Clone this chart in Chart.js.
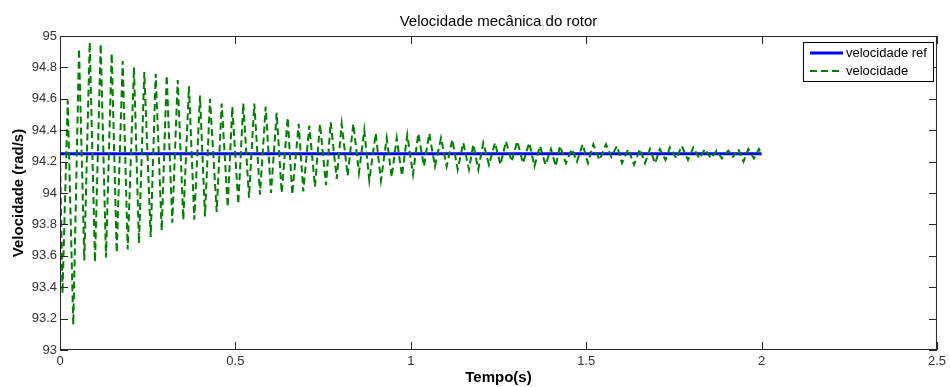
<!DOCTYPE html>
<html>
<head>
<meta charset="utf-8">
<script src="https://cdn.jsdelivr.net/npm/chart.js@4.4.1/dist/chart.umd.min.js"></script>
<style>
  html, body { margin: 0; padding: 0; background: #fff; }
  #wrap { width: 950px; height: 387px; }
</style>
</head>
<body>
<div id="wrap"><canvas id="rotor" width="950" height="387"></canvas></div>
<script>
const FONT = "'Liberation Sans', Arial, Helvetica, sans-serif";
const TICK_LEN = 8;

// Velocidade de referência (constante)
const refTempo = [0, 2];
const refVelocidade = [94.25, 94.25];

// Velocidade medida: picos e vales da oscilação amortecida
const tempo = [
  0, 0.0071, 0.0220, 0.0379, 0.0542, 0.0693, 0.0847, 0.0998, 0.1160, 0.1311,
  0.1474, 0.1616, 0.1787, 0.1930, 0.2109, 0.2252, 0.2403, 0.2586, 0.2728, 0.2899,
  0.3042, 0.3201, 0.3355, 0.3515, 0.3677, 0.3828, 0.3991, 0.4133, 0.4276, 0.4467,
  0.4610, 0.4781, 0.4912, 0.5083, 0.5225, 0.5388, 0.5539, 0.5701, 0.5864, 0.6015,
  0.6177, 0.6320, 0.6491, 0.6622, 0.6804, 0.6936, 0.7107, 0.7269, 0.7412, 0.7583,
  0.7717, 0.7888, 0.8030, 0.8201, 0.8361, 0.8523, 0.8675, 0.8817, 0.9000, 0.9150,
  0.9313, 0.9455, 0.9598, 0.9749, 0.9900, 1.0063, 1.0214, 1.0376, 1.0527, 1.0690,
  1.0861, 1.1023, 1.1183, 1.1337, 1.1497, 1.1659, 1.1782, 1.1925, 1.2067, 1.2229,
  1.2400, 1.2557, 1.2714, 1.2876, 1.3036, 1.3198, 1.3378, 1.3526, 1.3683, 1.3840,
  1.3997, 1.4131, 1.4253, 1.4424, 1.4587, 1.4738, 1.4900, 1.5051, 1.5203, 1.5379,
  1.5565, 1.5719, 1.5878, 1.6021, 1.6201, 1.6363, 1.6534, 1.6676, 1.6819, 1.6962,
  1.7104, 1.7261, 1.7389, 1.7574, 1.7722, 1.7902, 1.8053, 1.8230, 1.8387, 1.8558,
  1.8720, 1.8871, 1.9051, 1.9185, 1.9336, 1.9484, 1.9621, 1.9783, 1.9926, 2.0
];
const velocidade = [
  94.25, 93.36, 94.59, 93.16, 94.92, 93.57, 94.96, 93.56, 94.95, 93.59,
  94.89, 93.62, 94.84, 93.64, 94.80, 93.68, 94.77, 93.72, 94.76, 93.76,
  94.75, 93.81, 94.72, 93.83, 94.68, 93.83, 94.62, 93.85, 94.60, 93.88,
  94.57, 93.91, 94.55, 93.93, 94.57, 93.97, 94.57, 93.99, 94.55, 94.00,
  94.51, 94.00, 94.48, 93.99, 94.44, 94.01, 94.43, 94.04, 94.44, 94.05,
  94.45, 94.09, 94.44, 94.11, 94.44, 94.13, 94.40, 94.08, 94.38, 94.08,
  94.35, 94.10, 94.35, 94.11, 94.37, 94.12, 94.38, 94.17, 94.38, 94.17,
  94.35, 94.17, 94.34, 94.15, 94.32, 94.15, 94.31, 94.15, 94.32, 94.18,
  94.32, 94.18, 94.33, 94.20, 94.33, 94.19, 94.32, 94.17, 94.30, 94.18,
  94.28, 94.17, 94.30, 94.19, 94.28, 94.20, 94.31, 94.19, 94.31, 94.21,
  94.31, 94.23, 94.30, 94.19, 94.28, 94.18, 94.28, 94.19, 94.28, 94.19,
  94.28, 94.21, 94.29, 94.22, 94.30, 94.21, 94.29, 94.22, 94.28, 94.22,
  94.27, 94.22, 94.27, 94.23, 94.28, 94.20, 94.28, 94.22, 94.28, 94.24
];

const xTicks = [0, 0.5, 1, 1.5, 2, 2.5];
const yTicks = [93, 93.2, 93.4, 93.6, 93.8, 94, 94.2, 94.4, 94.6, 94.8, 95];

const toPoints = (xs, ys) => xs.map((x, i) => ({ x: x, y: ys[i] }));

// moldura estilo MATLAB: caixa, ticks para dentro, título e legenda
const molduraPlugin = {
  id: 'moldura',
  afterDraw(chart) {
    const { ctx, chartArea: a, scales } = chart;
    ctx.save();

    ctx.strokeStyle = '#262626';
    ctx.lineWidth = 1;
    ctx.strokeRect(a.left + 0.5, a.top + 0.5, a.right - a.left - 1, a.bottom - a.top - 1);

    ctx.beginPath();
    xTicks.forEach(v => {
      const px = Math.round(scales.x.getPixelForValue(v)) + 0.5;
      ctx.moveTo(px, a.bottom); ctx.lineTo(px, a.bottom - TICK_LEN);
      ctx.moveTo(px, a.top); ctx.lineTo(px, a.top + TICK_LEN);
    });
    yTicks.forEach(v => {
      const py = Math.round(scales.y.getPixelForValue(v)) + 0.5;
      ctx.moveTo(a.left, py); ctx.lineTo(a.left + TICK_LEN, py);
      ctx.moveTo(a.right, py); ctx.lineTo(a.right - TICK_LEN, py);
    });
    ctx.stroke();

    // título
    ctx.fillStyle = '#000';
    ctx.font = '15px ' + FONT;
    ctx.textAlign = 'center';
    ctx.textBaseline = 'middle';
    ctx.fillText('Velocidade mecânica do rotor', (a.left + a.right) / 2, 22);

    // legenda
    const boxW = 130, boxH = 39;
    const bx = a.right - 4 - boxW, by = a.top + 6;
    ctx.fillStyle = '#fff';
    ctx.fillRect(bx, by, boxW, boxH);
    ctx.strokeStyle = '#000';
    ctx.strokeRect(bx + 0.5, by + 0.5, boxW, boxH);

    ctx.font = '13px ' + FONT;
    ctx.textAlign = 'left';
    chart.data.datasets.forEach((ds, i) => {
      const ly = by + 11 + i * 18;
      ctx.beginPath();
      ctx.strokeStyle = ds.borderColor;
      ctx.lineWidth = ds.borderWidth;
      ctx.setLineDash(ds.borderDash || []);
      ctx.moveTo(bx + 7, ly);
      ctx.lineTo(bx + 40, ly);
      ctx.stroke();
      ctx.setLineDash([]);
      ctx.fillStyle = '#000';
      ctx.fillText(ds.label, bx + 43, ly);
    });

    ctx.restore();
  }
};

const ctx = document.getElementById('rotor');
new Chart(ctx, {
  type: 'scatter',
  data: {
    datasets: [
      {
        label: 'velocidade ref',
        data: toPoints(refTempo, refVelocidade),
        showLine: true,
        borderColor: '#0000ff',
        borderWidth: 3,
        pointRadius: 0,
        order: 2,
      },
      {
        label: 'velocidade',
        data: toPoints(tempo, velocidade),
        showLine: true,
        borderColor: '#008000',
        borderWidth: 2,
        borderDash: [7, 4],
        pointRadius: 0,
        tension: 0,
        order: 1,
      },
    ],
  },
  options: {
    responsive: false,
    animation: false,
    devicePixelRatio: 1,
    layout: { padding: { top: 36, right: 13, left: 0, bottom: 0 } },
    plugins: {
      legend: { display: false },
      title: { display: false },
      tooltip: { enabled: false },
    },
    scales: {
      x: {
        type: 'linear',
        min: 0,
        max: 2.5,
        afterBuildTicks: s => { s.ticks = xTicks.map(v => ({ value: v })); },
        afterFit: s => { s.height = 37; },
        grid: { display: false, drawTicks: false },
        border: { display: false },
        ticks: {
          autoSkip: false,
          maxRotation: 0,
          padding: 4,
          color: '#333',
          font: { family: FONT, size: 13 },
          callback: v => String(v),
        },
        title: {
          display: true,
          text: 'Tempo(s)',
          color: '#000',
          font: { family: FONT, size: 15, weight: 'bold', lineHeight: 1 },
          padding: { top: 0, bottom: 1.5 },
        },
      },
      y: {
        type: 'linear',
        min: 93,
        max: 95,
        afterBuildTicks: s => { s.ticks = yTicks.map(v => ({ value: v })); },
        afterFit: s => { s.width = 60; },
        grid: { display: false, drawTicks: false },
        border: { display: false },
        ticks: {
          autoSkip: false,
          padding: 3,
          color: '#333',
          font: { family: FONT, size: 13 },
          callback: v => String(v),
        },
        title: {
          display: true,
          text: 'Velocidade (rad/s)',
          color: '#000',
          font: { family: FONT, size: 15, weight: 'bold', lineHeight: 1 },
          padding: { top: 11, bottom: 0 },
        },
      },
    },
  },
  plugins: [molduraPlugin],
});
</script>
</body>
</html>
